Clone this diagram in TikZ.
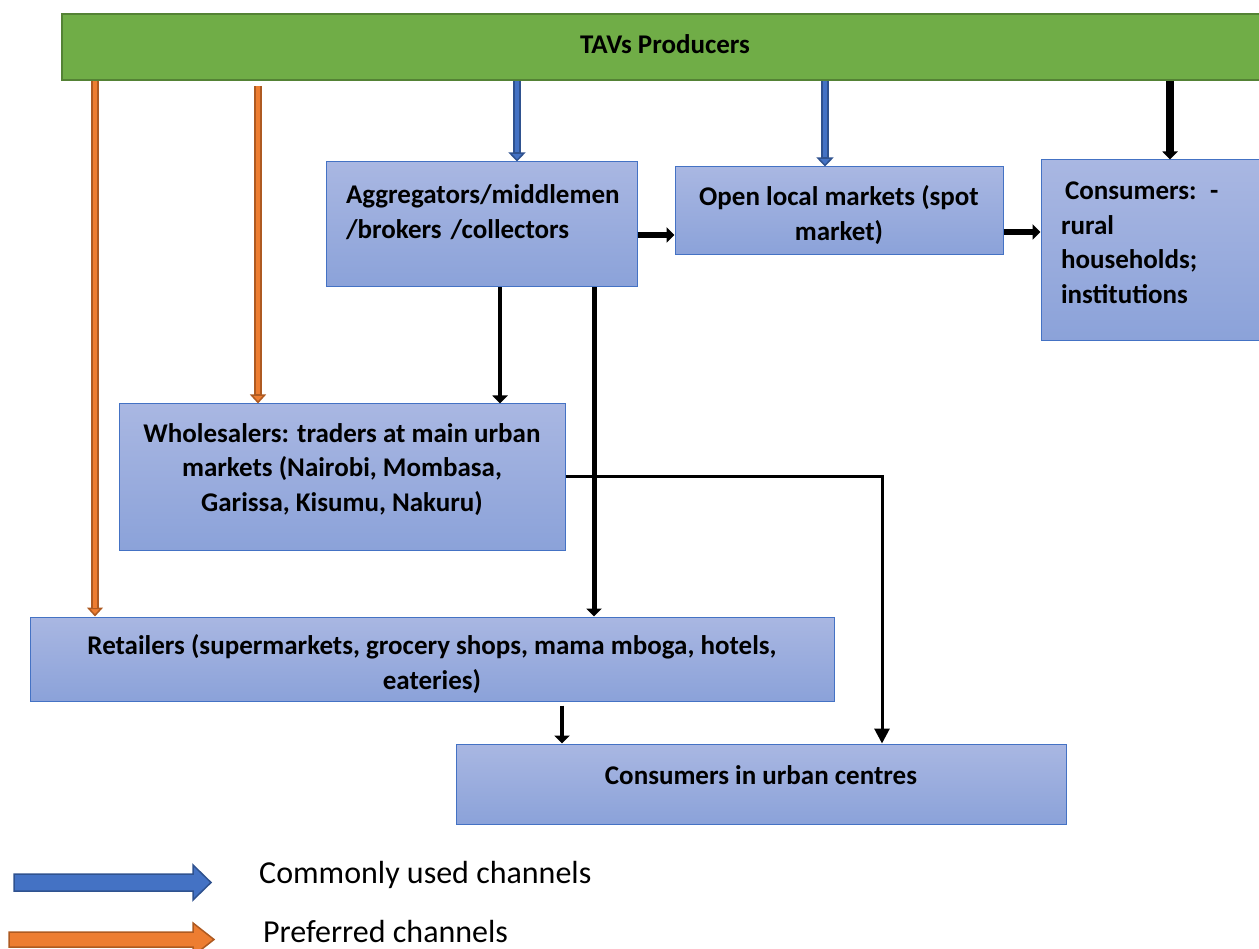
\documentclass[tikz,border=0pt]{standalone}
\usepackage{fontspec}
\setmainfont{Carlito}
\usetikzlibrary{arrows.meta,calc}
\definecolor{prodgreen}{HTML}{70AD47}
\definecolor{prodedge}{HTML}{548235}
\definecolor{boxtop}{HTML}{A9B7E2}
\definecolor{boxbot}{HTML}{8BA2D9}
\definecolor{boxedge}{HTML}{4472C4}
\definecolor{comblue}{HTML}{4472C4}
\definecolor{comedge}{HTML}{2F528F}
\definecolor{preforange}{HTML}{ED7D31}
\definecolor{prefedge}{HTML}{AE5A21}
% struts that nudge a node's text up (sink) or down (rise)
\newcommand{\sink}[1]{\rule[-#1]{0pt}{#1}}
\newcommand{\rise}[1]{\rule{0pt}{#1}}
\tikzset{
  producer/.style={draw=prodedge, line width=2pt, fill=prodgreen, inner sep=0pt,
    font=\bfseries\fontsize{27}{34.5}\selectfont},
  chan/.style={draw=boxedge, line width=1pt, top color=boxtop, bottom color=boxbot,
    align=center, inner sep=0pt, font=\bfseries\fontsize{27}{34.5}\selectfont},
  common/.style={draw=comedge, line width=8pt,
    -{Triangle[length=9pt,width=17pt,fill=comblue,line width=1.5pt]},
    postaction={draw=comblue, line width=4.5pt, -, shorten >=9pt}},
  pref/.style={draw=prefedge, line width=8pt,
    -{Triangle[length=9pt,width=16pt,fill=preforange,line width=1.5pt]},
    postaction={draw=preforange, line width=4pt, -, shorten >=9pt}},
  flow/.style={line width=#1, -{Triangle[length=8pt,width=15pt]}},
  route/.style={line width=3pt, -{Triangle[length=15pt,width=15pt]}},
  legend/.style={inner sep=0pt, font=\fontsize{32}{38}\selectfont}
}
\begin{document}
\begin{tikzpicture}[x=1pt,y=-1pt]
\useasboundingbox (0,0) rectangle (1259,949);
\node[producer, minimum width=1200pt, minimum height=66pt] (prod)
  at (662,47) {\hspace*{6pt}TAVs Producers\sink{6pt}};
\node[chan, align=left, text width=271pt, minimum width=311pt, minimum height=125pt] (agg)
  at (481.5,224.5) {Aggregators/middlemen\\/brokers /collectors\sink{26pt}};
\node[chan, minimum width=328pt, minimum height=88pt] (open)
  at (839,211) {\rise{28pt}Open local markets (spot\\market)};
\node[chan, align=left, text width=181pt, minimum width=221pt, minimum height=181pt] (rural)
  at (1151.5,250.5) {\hspace*{4pt}Consumers: -\\rural\\households;\\institutions\sink{16pt}};
\node[chan, minimum width=446pt, minimum height=146pt] (whole)
  at (342,477) {Wholesalers: traders at main urban\\markets (Nairobi, Mombasa,\\Garissa, Kisumu, Nakuru)\sink{19pt}};
\node[chan, minimum width=804pt, minimum height=84pt] (retail)
  at (432,659) {\rise{30pt}Retailers (supermarkets, grocery shops, mama mboga, hotels,\\eateries)};
\node[chan, minimum width=610pt, minimum height=80pt] (urban)
  at (761,784) {Consumers in urban centres\sink{18pt}};
% channels out of the producers
\draw[pref] (95,0 |- prod.south) -- (95,0 |- retail.north);
\draw[pref, shorten <=5pt] (258,0 |- prod.south) -- (258,0 |- whole.north);
\draw[common] (517,0 |- prod.south) -- (517,0 |- agg.north);
\draw[common] (825,0 |- prod.south) -- (825,0 |- open.north);
\draw[flow=8pt] (1170,0 |- prod.south) -- (1170,0 |- rural.north);
% onward flows
\draw[flow=6pt] (agg.east |- 0,235) -- (open.west |- 0,235);
\draw[flow=6pt] (open.east |- 0,232) -- (rural.west |- 0,232);
\draw[flow=4pt] (500,0 |- agg.south) -- (500,0 |- whole.north);
\draw[flow=5pt] (594,0 |- agg.south) -- (594,0 |- retail.north);
\draw[flow=4pt, shorten <=4pt] (562,0 |- retail.south) -- (562,0 |- urban.north);
\draw[route] (whole.east) -| (882,0 |- urban.north);
% legend
\draw[draw=comedge, fill=comblue, line width=1.5pt] (14,874) -- ++(179,0) -- ++(0,-9)
  -- ++(18,17.5) -- ++(-18,17.5) -- ++(0,-9) -- ++(-179,0) -- cycle;
\draw[draw=prefedge, fill=preforange, line width=1.5pt] (9,932) -- ++(184,0) -- ++(0,-9)
  -- ++(21,16.5) -- ++(-21,16.5) -- ++(0,-9) -- ++(-184,0) -- cycle;
\node[legend, anchor=base west] (comtext) at (259,883) {Commonly used channels};
\node[legend, anchor=base west] (preftext) at (263,942) {Preferred channels};
\end{tikzpicture}
\end{document}
